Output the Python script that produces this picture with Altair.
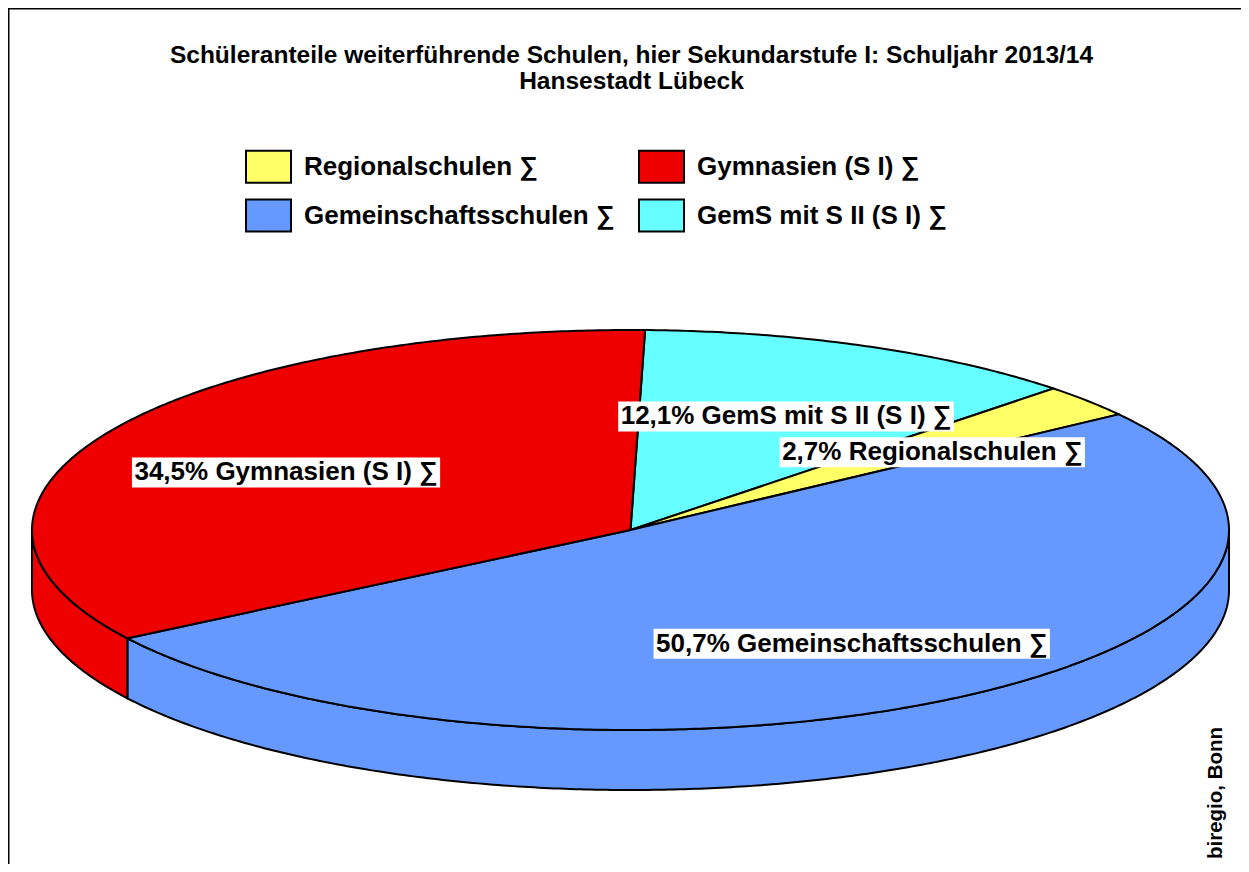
import math
import altair as alt

# ---------------- data ----------------
# slices in clockwise order, starting at the top of the pie
categories = ["GemS mit S II (S I) ∑", "Regionalschulen ∑", "Gemeinschaftsschulen ∑", "Gymnasien (S I) ∑"]
shares = [12.1, 2.7, 50.7, 34.5]
pct_labels = ["12,1%", "2,7%", "50,7%", "34,5%"]

legend_order = ["Regionalschulen ∑", "Gymnasien (S I) ∑", "Gemeinschaftsschulen ∑", "GemS mit S II (S I) ∑"]
legend_colors = ["#FFFF66", "#EE0000", "#6699FF", "#66FFFF"]

title_lines = ["Schüleranteile weiterführende Schulen, hier Sekundarstufe I: Schuljahr 2013/14",
               "Hansestadt Lübeck"]
credit = "biregio, Bonn"

# ---------------- layout / geometry ----------------
W, H = 1233, 856
CX, CY = 622.5, 522.0     # centre of the top face (pixels)
RX, RY = 598.5, 200.0     # radii of the elliptical top face
DEPTH = 60.0              # thickness of the pie
START = 88.6              # start angle (degrees, math orientation), slices go clockwise
FONT = "Liberation Sans"
LABEL_SIZE = 26

def pt(theta, dy=0.0):
    t = math.radians(theta)
    return [CX + RX * math.cos(t), CY - RY * math.sin(t) + dy]

def arc(a, b, dy=0.0):
    n = max(2, int(abs(a - b) / 0.5) + 1)
    return [pt(a + (b - a) * i / n, dy) for i in range(n + 1)]

tops, sides, labels, boxes = [], [], [], []

CHAR_W = {",": 278, "%": 889, " ": 278, "(": 333, ")": 333, "G": 778, "S": 667, "I": 278,
          "R": 722, "a": 556, "c": 556, "e": 556, "f": 333, "g": 611, "h": 611, "i": 278,
          "l": 278, "m": 889, "n": 611, "o": 611, "s": 556, "t": 333, "u": 611, "y": 556,
          "∑": 713}

def text_width(s, size):
    return sum(CHAR_W.get(ch, 556) for ch in s) / 1000.0 * size

a0 = START
for name, share, pct in zip(categories, shares, pct_labels):
    a1 = a0 - share * 3.6
    ring = [[CX, CY]] + arc(a0, a1) + [[CX, CY]]
    tops.append({"type": "Feature", "properties": {"name": name},
                 "geometry": {"type": "Polygon", "coordinates": [ring]}})
    # visible front wall: parts of the slice in the lower half of the ellipse
    for k in range(-2, 2):
        lo = max(a1, -180 + 360 * k)
        hi = min(a0, 0 + 360 * k)
        if lo < hi:
            upper = arc(hi, lo)
            lower = arc(lo, hi, DEPTH)
            wall = upper + lower + [upper[0]]
            sides.append({"type": "Feature", "properties": {"name": name},
                          "geometry": {"type": "Polygon", "coordinates": [wall]}})
    mid = math.radians((a0 + a1) / 2)
    lx = CX + RX * 0.66 * math.cos(mid)
    ly = CY - RY * 0.65 * math.sin(mid) + 6
    txt = pct + " " + name
    labels.append({"x": lx, "y": ly, "t": txt})
    w = text_width(txt, LABEL_SIZE) + 5
    box = [[lx - w / 2, ly - 15], [lx + w / 2, ly - 15], [lx + w / 2, ly + 15],
           [lx - w / 2, ly + 15], [lx - w / 2, ly - 15]]
    boxes.append({"type": "Feature", "properties": {"name": name},
                  "geometry": {"type": "Polygon", "coordinates": [box]}})
    a0 = a1

proj = dict(type="identity", scale=1, translate=[0, 0])

color = alt.Color(
    "properties.name:N",
    scale=alt.Scale(domain=legend_order, range=legend_colors),
    legend=alt.Legend(
        title=None, orient="none", legendX=237, legendY=135, columns=2, direction="horizontal",
        symbolType="M-1,-0.71H1V0.71H-1Z", symbolSize=2025,
        symbolStrokeColor="black", symbolStrokeWidth=2, symbolOpacity=1,
        labelFont=FONT, labelFontSize=LABEL_SIZE, labelFontWeight="bold", labelColor="black",
        labelOffset=12, rowPadding=5, columnPadding=20, padding=0, labelLimit=600,
    ),
)

side_layer = alt.Chart(alt.Data(values=sides)).mark_geoshape(
    stroke="black", strokeWidth=2, opacity=1).encode(color=color).project(**proj)
top_layer = alt.Chart(alt.Data(values=tops)).mark_geoshape(
    stroke="black", strokeWidth=2, opacity=1).encode(color=color).project(**proj)
box_layer = alt.Chart(alt.Data(values=boxes)).mark_geoshape(
    fill="white", strokeWidth=0, opacity=1).project(**proj)
label_layer = alt.Chart(alt.Data(values=labels)).mark_text(
    font=FONT, fontSize=LABEL_SIZE, fontWeight="bold", color="black", baseline="middle"
).encode(longitude="x:Q", latitude="y:Q", text="t:N").project(**proj)

title_layer = alt.Chart(alt.Data(values=[{"t": "\n".join(title_lines)}])).mark_text(
    font=FONT, fontSize=24.5, fontWeight="bold", color="black", lineBreak="\n",
    lineHeight=26, baseline="alphabetic", align="center"
).encode(text="t:N", x=alt.value(623.5), y=alt.value(55))

credit_layer = alt.Chart(alt.Data(values=[{"t": credit}])).mark_text(
    font=FONT, fontSize=20.5, fontWeight="bold", color="black", angle=270,
    baseline="middle", align="center"
).encode(text="t:N", x=alt.value(1208), y=alt.value(785))

frame_left = alt.Chart(alt.Data(values=[{}])).mark_rule(color="black", strokeWidth=1.5).encode(
    x=alt.value(0.75), y=alt.value(0), y2=alt.value(H))
frame_top = alt.Chart(alt.Data(values=[{}])).mark_rule(color="black", strokeWidth=1.5).encode(
    x=alt.value(0), x2=alt.value(W), y=alt.value(0.75))

chart = alt.layer(
    side_layer, top_layer, box_layer, label_layer, title_layer, credit_layer, frame_left, frame_top
).properties(
    width=W, height=H, autosize="none", padding=0
).configure_view(stroke=None)

chart.save("out.html", embed_options={"renderer": "svg", "actions": False})
